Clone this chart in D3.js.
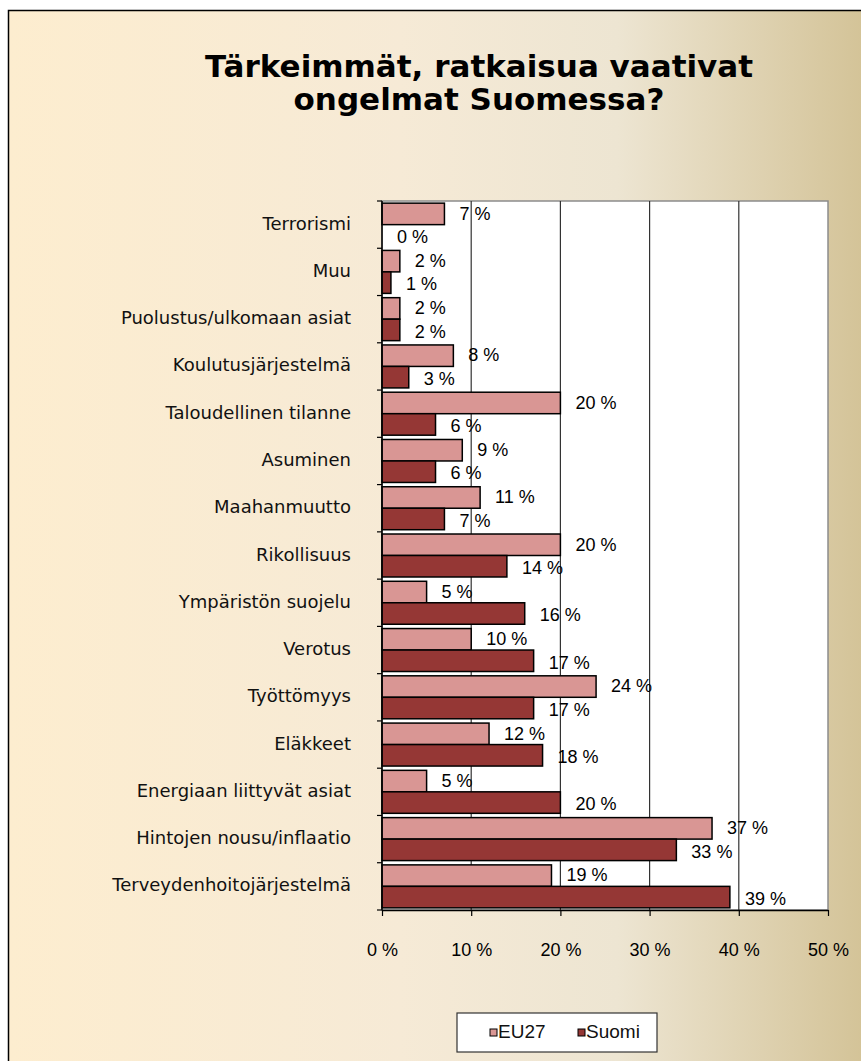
<!DOCTYPE html>
<html>
<head>
<meta charset="utf-8">
<script src="https://cdn.jsdelivr.net/npm/d3@7"></script>
<style>
  html, body { margin: 0; padding: 0; background: #fff; }
  svg { display: block; }
</style>
</head>
<body>
<svg id="chart" width="861" height="1061"></svg>
<script>
const categories = [
    "Terrorismi", "Muu", "Puolustus/ulkomaan asiat", "Koulutusjärjestelmä",
    "Taloudellinen tilanne", "Asuminen", "Maahanmuutto", "Rikollisuus",
    "Ympäristön suojelu", "Verotus", "Työttömyys", "Eläkkeet",
    "Energiaan liittyvät asiat", "Hintojen nousu/inflaatio", "Terveydenhoitojärjestelmä"
];
const seriesNames = ["EU27", "Suomi"];
const eu27 = [7, 2, 2, 8, 20, 9, 11, 20, 5, 10, 24, 12, 5, 37, 19];
const suomi = [0, 1, 2, 3, 6, 6, 7, 14, 16, 17, 17, 18, 20, 33, 39];
const xTicks = [0, 10, 20, 30, 40, 50];
const titleLines = ["Tärkeimmät, ratkaisua vaativat", "ongelmat Suomessa?"];

const colors = { EU27: "#d99694", Suomi: "#953735" };

drawChart();

function drawChart() {
    const svg = d3.select("#chart");

    // background gradient
    const defs = svg.append("defs");
    const grad = defs.append("linearGradient")
        .attr("id", "bg")
        .attr("x1", "0%").attr("x2", "100%")
        .attr("y1", "0%").attr("y2", "0%");
    [[0, "#fdedcf"], [0.45, "#f6ead6"], [0.7, "#ede5d2"], [1, "#d2c194"]].forEach(s => {
        grad.append("stop").attr("offset", s[0]).attr("stop-color", s[1]);
    });

    svg.append("rect")
        .attr("x", 8.5).attr("y", 10.5)
        .attr("width", 870).attr("height", 1070)
        .attr("fill", "url(#bg)")
        .attr("stroke", "#000")
        .attr("stroke-width", 1.5);

    // title, one text per line
    svg.append("g")
        .selectAll("text")
        .data(titleLines)
        .join("text")
        .attr("x", 479)
        .attr("y", (d, i) => 77 + i * 33)
        .attr("text-anchor", "middle")
        .style("font-family", "'DejaVu Sans', sans-serif")
        .style("font-weight", "bold")
        .style("font-size", "31px")
        .style("fill", "#000")
        .text(d => d);

    const left = 382, right = 828, top = 201, bottom = 910;

    const x = d3.scaleLinear().domain([0, 50]).range([left, right]);
    const y = d3.scaleBand().domain(categories).range([top, bottom]).padding(0);
    const ySub = d3.scaleBand().domain(seriesNames).range([0, y.bandwidth()])
        .paddingInner(0).paddingOuter(0.1);

    // plot area
    svg.append("rect")
        .attr("x", left).attr("y", top)
        .attr("width", right - left).attr("height", bottom - top)
        .attr("fill", "#fff")
        .attr("stroke", "#8c8c8c")
        .attr("stroke-width", 1.5);

    // gridlines
    svg.append("g")
        .selectAll("line")
        .data(xTicks.filter(t => t > 0 && t < 50))
        .join("line")
        .attr("x1", d => x(d)).attr("x2", d => x(d))
        .attr("y1", top).attr("y2", bottom)
        .attr("stroke", "#333")
        .attr("stroke-width", 1.2);

    // bars
    const rows = categories.map((c, i) => ({ cat: c, values: [
        { s: "EU27", v: eu27[i] }, { s: "Suomi", v: suomi[i] }
    ] }));

    const groups = svg.append("g")
        .selectAll("g")
        .data(rows)
        .join("g")
        .attr("transform", d => `translate(0,${y(d.cat)})`);

    groups.selectAll("rect")
        .data(d => d.values.filter(v => v.v > 0))
        .join("rect")
        .attr("x", x(0))
        .attr("y", d => ySub(d.s))
        .attr("width", d => x(d.v) - x(0))
        .attr("height", ySub.bandwidth())
        .attr("fill", d => colors[d.s])
        .attr("stroke", "#000")
        .attr("stroke-width", 1.5);

    groups.selectAll("text")
        .data(d => d.values)
        .join("text")
        .attr("x", d => x(d.v) + 15)
        .attr("y", d => ySub(d.s) + ySub.bandwidth() / 2 + (d.s === "Suomi" ? 3 : 1))
        .attr("dominant-baseline", "middle")
        .style("font-family", "'Liberation Sans', Arial, sans-serif")
        .style("font-size", "18px")
        .style("fill", "#000")
        .text(d => d.v + " %");

    // y axis
    const yAxis = svg.append("g");
    yAxis.append("line")
        .attr("x1", left).attr("x2", left)
        .attr("y1", top).attr("y2", bottom)
        .attr("stroke", "#000").attr("stroke-width", 1.5);
    yAxis.selectAll("line.tick")
        .data(d3.range(categories.length + 1))
        .join("line")
        .attr("class", "tick")
        .attr("x1", left - 5).attr("x2", left)
        .attr("y1", i => top + i * y.step()).attr("y2", i => top + i * y.step())
        .attr("stroke", "#000").attr("stroke-width", 1.2);
    yAxis.selectAll("text")
        .data(categories)
        .join("text")
        .attr("x", 351)
        .attr("y", d => y(d) + y.bandwidth() / 2)
        .attr("text-anchor", "end")
        .attr("dominant-baseline", "middle")
        .style("font-family", "'DejaVu Sans', Verdana, sans-serif")
        .style("font-size", "18px")
        .style("fill", "#111")
        .text(d => d);

    // x axis
    const xAxis = d3.axisBottom(x)
        .tickValues(xTicks)
        .tickFormat(d => d + " %")
        .tickSizeInner(6)
        .tickSizeOuter(0)
        .tickPadding(27);
    const gx = svg.append("g")
        .attr("transform", `translate(0,${bottom})`)
        .call(xAxis);
    gx.select(".domain").attr("stroke", "#000").attr("stroke-width", 1.5);
    gx.selectAll(".tick line").attr("stroke", "#000").attr("stroke-width", 1.2);
    gx.selectAll(".tick text")
        .style("font-family", "'Liberation Sans', Arial, sans-serif")
        .style("font-size", "18px")
        .style("fill", "#000");

    // legend
    const legend = svg.append("g").attr("transform", "translate(457,1013)");
    legend.append("rect")
        .attr("width", 200).attr("height", 39)
        .attr("fill", "#fff")
        .attr("stroke", "#333")
        .attr("stroke-width", 1.2);
    const items = legend.selectAll("g")
        .data(seriesNames)
        .join("g")
        .attr("transform", (d, i) => `translate(${33 + i * 88},20)`);
    items.append("rect")
        .attr("x", 0).attr("y", -4)
        .attr("width", 7).attr("height", 7)
        .attr("fill", d => colors[d])
        .attr("stroke", "#000")
        .attr("stroke-width", 1);
    items.append("text")
        .attr("x", 8)
        .attr("y", 0)
        .attr("dominant-baseline", "middle")
        .style("font-family", "'Liberation Sans', Arial, sans-serif")
        .style("font-size", "19px")
        .style("fill", "#111")
        .text(d => d);
}
</script>
</body>
</html>
